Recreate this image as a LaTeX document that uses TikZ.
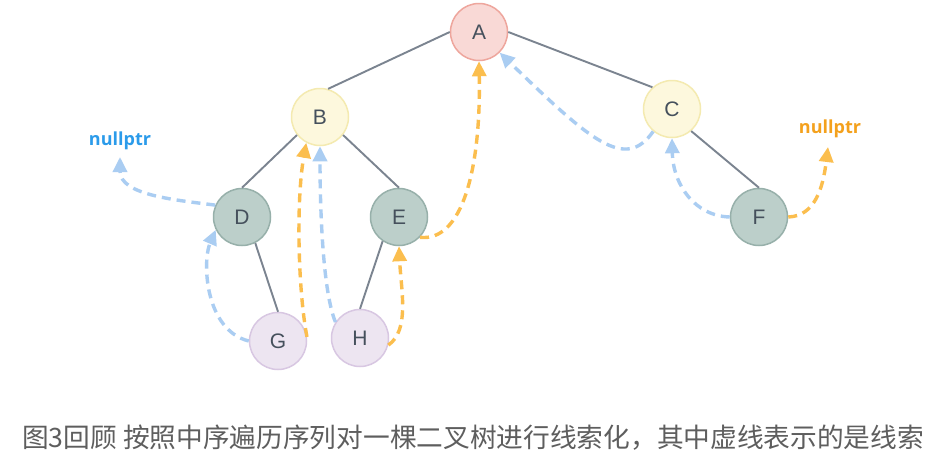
\documentclass[tikz,border=0pt]{standalone}
\usepackage{fontspec}
\setmainfont{Open Sans}
\newfontfamily\letterfont{Liberation Sans}
\newfontfamily\cjk{Noto Sans CJK SC}
\usetikzlibrary{arrows.meta}
\definecolor{edgegray}{HTML}{7B8490}
\definecolor{labelc}{HTML}{45505C}
\definecolor{afill}{HTML}{F9D9D6}
\definecolor{adraw}{HTML}{EEA69D}
\definecolor{bfill}{HTML}{FDF8DD}
\definecolor{bdraw}{HTML}{F4EAB0}
\definecolor{dfill}{HTML}{BCCFCA}
\definecolor{ddraw}{HTML}{97B0AA}
\definecolor{gfill}{HTML}{EDE5F1}
\definecolor{gdraw}{HTML}{D8C7E2}
\definecolor{thblue}{HTML}{AACDF2}
\definecolor{thorange}{HTML}{FBBE4E}
\definecolor{nullblue}{HTML}{2B9BEA}
\definecolor{nullorange}{HTML}{F4A11D}
\definecolor{captc}{HTML}{5E5E5E}
\tikzset{
  tnode/.style={circle, minimum size=57pt, inner sep=0pt, line width=1.5pt,
    font=\letterfont\fontsize{21}{25}\selectfont, text=labelc},
  redn/.style={tnode, fill=afill, draw=adraw},
  yeln/.style={tnode, fill=bfill, draw=bdraw},
  grnn/.style={tnode, fill=dfill, draw=ddraw},
  purn/.style={tnode, fill=gfill, draw=gdraw},
  tedge/.style={draw=edgegray, line width=1.9pt},
  thread/.style={line width=3.4pt, dash pattern=on 9pt off 6pt},
  bthread/.style={thread, draw=thblue, -{Triangle[length=15pt,width=14pt,fill=thblue]}},
  othread/.style={thread, draw=thorange, -{Triangle[length=15pt,width=14pt,fill=thorange]}},
  nulllab/.style={font=\bfseries\fontsize{18}{22}\selectfont, inner sep=0pt}
}
\begin{document}
\begin{tikzpicture}[x=1pt,y=-1pt]
\useasboundingbox[fill=white] (0,0) rectangle (951,458);
% nodes
\node[redn] (A) at (479,32) {A};
\node[yeln] (B) at (320,117) {B};
\node[yeln] (C) at (672,109) {C};
\node[grnn] (D) at (242,217) {D};
\node[grnn] (E) at (399,217) {E};
\node[grnn] (F) at (759,217) {F};
\node[purn] (G) at (278,341) {G};
\node[purn] (H) at (360,338) {H};
\node[nulllab, text=nullblue] (N1) at (120,141) {nullptr};
\node[nulllab, text=nullorange] (N2) at (830,129) {nullptr};
\coordinate (N1t) at (120,157);
\coordinate (N2t) at (828,147);
% tree edges
\draw[tedge] (A.180) -- (B.74);
\draw[tedge] (A.0) -- (C.132);
\draw[tedge] (B.218) -- (D.90);
\draw[tedge] (B.322) -- (E.90);
\draw[tedge] (C.311) -- (F.90);
\draw[tedge] (D.297) -- (G.90);
\draw[tedge] (E.236) -- (H.90);
% threads
\draw[bthread] (D.156) .. controls (175,200) and (120,195) .. (N1t);
\draw[bthread] (G.180) .. controls (205,330) and (202,262) .. (D.206);
\draw[othread] (G.8) .. controls (298,290) and (296,200) .. (B.242);
\draw[bthread] (H.147) .. controls (322,290) and (320,200) .. (B.270);
\draw[othread] (H.346) .. controls (410,330) and (401,290) .. (E.270);
\draw[othread] (E.316) .. controls (462,242) and (481,170) .. (A.270);
\draw[bthread] (C.230) .. controls (625,172) and (590,140) .. (A.315);
\draw[bthread] (F.180) .. controls (695,216) and (673,185) .. (C.270);
\draw[othread] (F.0) .. controls (815,216) and (823,188) .. (N2t);
% caption
\node[anchor=west, inner sep=0pt, text=captc, font=\cjk\fontsize{26.7}{30}\selectfont] (cap) at (22,438)
  {图3回顾 按照中序遍历序列对一棵二叉树进行线索化，其中虚线表示的是线索};
\end{tikzpicture}
\end{document}
